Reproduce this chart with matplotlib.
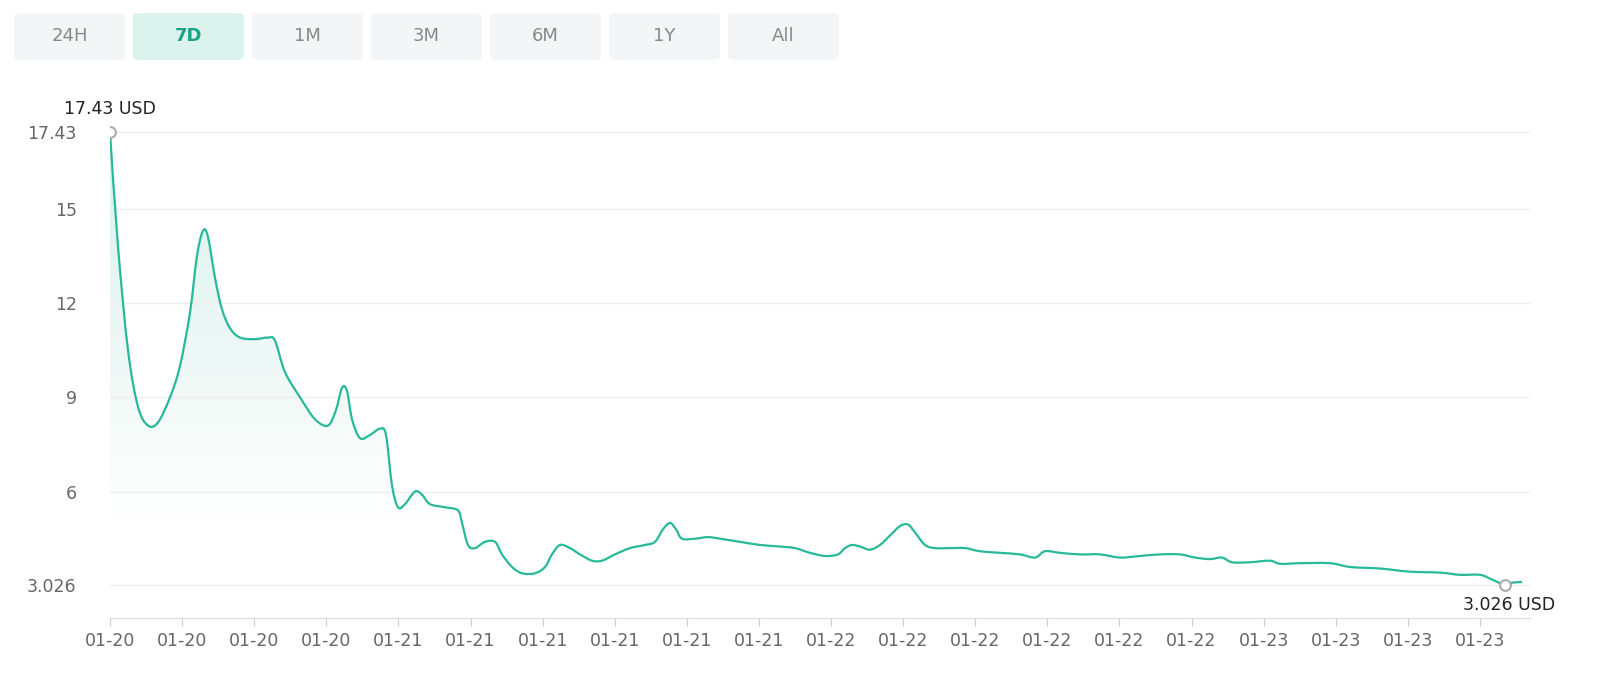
import numpy as np
import matplotlib
matplotlib.use("Agg")
import matplotlib.pyplot as plt
from matplotlib.patches import FancyBboxPatch, PathPatch
from matplotlib.path import Path

# price series (x = time position, y = price in USD)
t = [110, 118, 128, 138, 148, 158, 170, 180, 190, 197, 203, 208, 215, 222, 230, 240, 255, 268, 275, 285,
     300, 315, 328, 336, 342, 347, 352, 360, 370, 380, 386, 392, 398, 405, 415, 422, 430, 445, 458, 462,
     468, 475, 485, 495, 502, 512, 522, 535, 545, 552, 560, 570, 580, 592, 602, 615, 630, 645, 655, 663,
     670, 676, 682, 695, 708, 720, 740, 760, 780, 795, 810, 825, 838, 845, 852, 860, 870, 880, 890, 900,
     908, 915, 925, 935, 950, 965, 980, 1000, 1020, 1035, 1045, 1060, 1080, 1100, 1120, 1140, 1160, 1180,
     1195, 1210, 1222, 1232, 1250, 1270, 1280, 1300, 1330, 1350, 1380, 1410, 1440, 1460, 1480, 1492,
     1505, 1512, 1522]
price = [17.43, 13.8, 10.5, 8.7, 8.1, 8.2, 9.0, 10.0, 11.7, 13.5, 14.3, 14.1, 12.8, 11.8, 11.2, 10.9,
         10.85, 10.9, 10.8, 9.8, 9.0, 8.3, 8.1, 8.6, 9.3, 9.2, 8.3, 7.7, 7.8, 8.0, 7.8, 6.2, 5.5, 5.6,
         6.0, 5.9, 5.6, 5.5, 5.4, 5.0, 4.3, 4.2, 4.4, 4.4, 4.0, 3.6, 3.4, 3.4, 3.6, 4.0, 4.3, 4.2, 4.0,
         3.8, 3.8, 4.0, 4.2, 4.3, 4.4, 4.8, 5.0, 4.8, 4.5, 4.5, 4.55, 4.5, 4.4, 4.3, 4.25, 4.2, 4.05,
         3.95, 4.0, 4.2, 4.3, 4.25, 4.15, 4.3, 4.6, 4.9, 4.95, 4.7, 4.3, 4.2, 4.2, 4.2, 4.1, 4.05, 4.0,
         3.9, 4.1, 4.05, 4.0, 4.0, 3.9, 3.95, 4.0, 4.0, 3.9, 3.85, 3.9, 3.75, 3.75, 3.8, 3.7, 3.72, 3.72,
         3.6, 3.55, 3.45, 3.42, 3.35, 3.35, 3.2, 3.026, 3.1, 3.12]
tick_pos = [110 + 72.1 * k for k in range(20)]
tick_labels = ["01-20"] * 4 + ["01-21"] * 6 + ["01-22"] * 6 + ["01-23"] * 4
y_ticks = [3.026, 6, 9, 12, 15, 17.43]
y_labels = ["3.026", "6", "9", "12", "15", "17.43"]
buttons = ["24H", "7D", "1M", "3M", "6M", "1Y", "All"]

line_c = "#27b99a"
fig = plt.figure(figsize=(16, 6.81), dpi=100)
ax = fig.add_axes([110 / 1600, 1 - 618 / 681, 1420 / 1600, 518 / 681])
ax.set_xlim(110, 1530)
ax.set_ylim(1.976, 18.46)

# smooth rendering of the line through the points (catmull-rom bezier path)
pts = np.column_stack([t, price])
verts = [pts[0]]
codes = [Path.MOVETO]
for i in range(len(pts) - 1):
    p0 = pts[max(i - 1, 0)]
    p1, p2 = pts[i], pts[i + 1]
    p3 = pts[min(i + 2, len(pts) - 1)]
    verts += [p1 + (p2 - p0) / 6, p2 - (p3 - p1) / 6, p2]
    codes += [Path.CURVE4] * 3
ax.add_patch(PathPatch(Path(verts, codes), fc="none", ec=line_c, lw=1.6, zorder=3))

# gradient fill under the line
grad = np.linspace(0, 1, 256).reshape(-1, 1)
cmap = matplotlib.colors.LinearSegmentedColormap.from_list("g", ["#ffffff", "#d4efe8"])
im = ax.imshow(grad, aspect="auto", cmap=cmap, origin="lower",
               extent=[110, 1530, 5, 17.43], zorder=1, alpha=0.9)
poly = ax.fill_between(t, price, 1.976, color="none")
clip = PathPatch(poly.get_paths()[0], transform=ax.transData, visible=False)
ax.add_patch(clip)
im.set_clip_path(clip)

ax.scatter([t[0], t[-3]], [price[0], price[-3]], s=60, facecolor="white", edgecolor="#aaaaaa",
           lw=1.5, zorder=4)
ax.text(t[0], price[0] + 0.45, "17.43 USD", ha="center", va="bottom", fontsize=12.5, color="#222")
ax.text(t[-3] + 4, price[-3] - 0.35, "3.026 USD", ha="center", va="top", fontsize=12.5, color="#222")

ax.set_yticks(y_ticks)
ax.set_yticklabels(y_labels)
ax.set_xticks(tick_pos)
ax.set_xticklabels(tick_labels)
ax.tick_params(axis="y", length=0, labelsize=12.5, labelcolor="#666", pad=24)
ax.tick_params(axis="x", length=6, color="#ccc", labelsize=12.5, labelcolor="#666", pad=4)
ax.grid(axis="y", color="#eeeeee", lw=1)
for s in ["top", "right", "left"]:
    ax.spines[s].set_visible(False)
ax.spines["bottom"].set_color("#dddddd")
ax.set_facecolor("white")

# range buttons
for i, b in enumerate(buttons):
    x0 = 14 + i * 119
    active = b == "7D"
    fig.patches.append(FancyBboxPatch((x0 / 1600, 1 - 60 / 681), 111 / 1600, 47 / 681,
                                      boxstyle="round,pad=0,rounding_size=0.005",
                                      transform=fig.transFigure,
                                      fc="#dcf2ec" if active else "#f4f5f7", ec="none"))
    fig.text((x0 + 55.5) / 1600, 1 - 36 / 681, b, ha="center", va="center", fontsize=13,
             color="#16a386" if active else "#888888", fontweight="bold" if active else "normal")

fig.savefig("out.png", dpi=100, facecolor="white")
